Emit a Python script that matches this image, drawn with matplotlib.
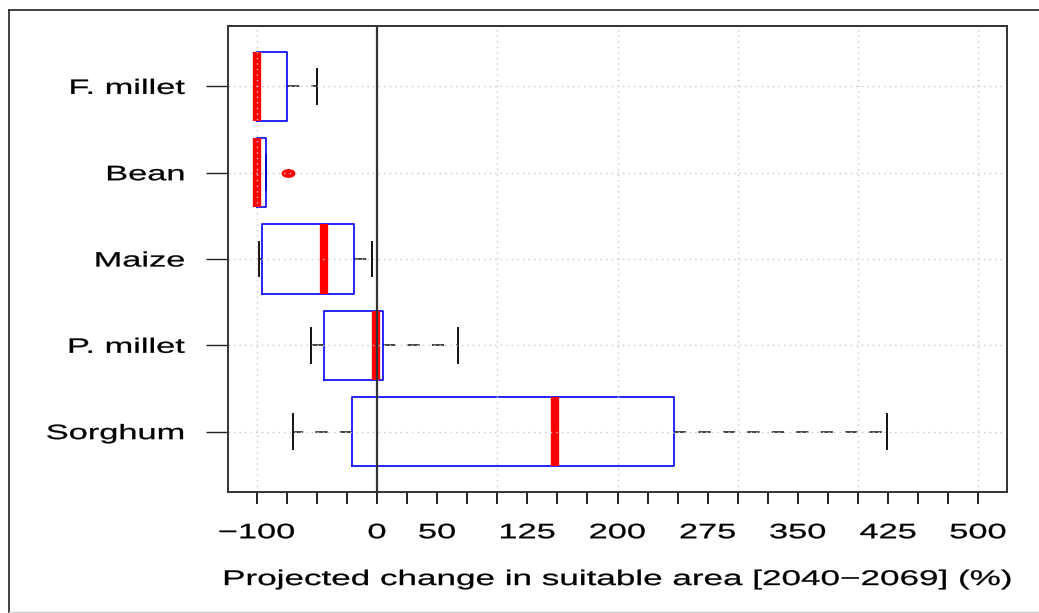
import numpy as np
import matplotlib.pyplot as plt
from matplotlib.path import Path
from matplotlib.transforms import Affine2D
from matplotlib.lines import Line2D
from matplotlib.patheffects import AbstractPathEffect

# Datos (cambio proyectado en % de area apta, 2040-2069)
crops = ["Sorghum", "P. millet", "Maize", "Bean", "F. millet"]
whis_lo = [-70, -55, -98, -100, -100]
q1 = [-21, -44, -95.5, -100, -100]
median = [148, -1, -44, -99.5, -100]
q3 = [247, 5, -19.5, -92, -75]
whis_hi = [424, 67, -4, -92, -50]
outliers = [[], [], [], [-74], []]

tick_vals = np.arange(-100, 501, 25)
tick_labels = {-100: "\u2212100", 0: "0", 50: "50", 125: "125", 200: "200",
               275: "275", 350: "350", 425: "425", 500: "500"}
GRID_X = [-100, 0, 100, 200, 300, 400, 500]

STRETCH = 1.65  # la imagen original esta estirada en horizontal


class Estirar(AbstractPathEffect):
    """Estira el texto en horizontal alrededor de su punto de anclaje."""
    def __init__(self, sx, ha, trazo=0.2):
        super().__init__()
        self.sx = sx
        self.trazo = trazo
        self.frac = {'left': 0.0, 'center': 0.5, 'right': 1.0}[ha]

    def draw_path(self, renderer, gc, tpath, affine, rgbFace=None):
        ext = tpath.get_extents()
        c = ext.x0 + self.frac * ext.width
        t = Affine2D().translate(-c, 0).scale(self.sx, 1).translate(c, 0)
        gc0 = renderer.new_gc()
        gc0.copy_properties(gc)
        gc0.set_linewidth(self.trazo)
        renderer.draw_path(gc0, tpath, t + affine, rgbFace)
        gc0.restore()


plt.rcParams['font.family'] = ['Liberation Sans', 'DejaVu Sans']

fig = plt.figure(figsize=(10.39, 6.13), dpi=100)
ax = fig.add_axes([228 / 1039, 1 - 492 / 613, (1007 - 228) / 1039, (492 - 26) / 613])

stats = []
for i in range(len(crops)):
    stats.append(dict(med=median[i], q1=q1[i], q3=q3[i],
                      whislo=whis_lo[i], whishi=whis_hi[i],
                      fliers=outliers[i], label=crops[i]))

ellipse = Path.unit_circle().transformed(Affine2D().scale(1.68, 1.0))

ax.bxp(stats, positions=np.arange(1, len(crops) + 1), widths=0.8, capwidths=0.4,
       orientation='horizontal', patch_artist=False,
       boxprops=dict(color='#0000FF', linewidth=1.2, zorder=2.2),
       medianprops=dict(color='#FF0000', linewidth=6, solid_capstyle='butt', zorder=2.3),
       whiskerprops=dict(color='#111111', linewidth=1.1, linestyle=(0, (8, 8))),
       capprops=dict(color='#111111', linewidth=1.4),
       flierprops=dict(marker=ellipse, markerfacecolor='#FF0000', markeredgecolor='#FF0000',
                       markersize=9, linestyle='none'))

# grilla punteada encima de las cajas
for gx in GRID_X:
    ax.axvline(gx, color='#C8C8C8', linestyle=(0, (1, 3)), linewidth=1, zorder=2.5)
for gy in range(1, len(crops) + 1):
    ax.axhline(gy, color='#C8C8C8', linestyle=(0, (1, 3)), linewidth=1, zorder=2.5)
ax.axvline(0, color='#333333', linewidth=1.6, zorder=3)

ax.set_xlim(-124, 524)
ax.set_ylim(0.3, 5.7)
ax.set_xticks(tick_vals)
ax.set_xticklabels([tick_labels.get(int(v), '') for v in tick_vals])
ax.set_yticks(np.arange(1, len(crops) + 1))
ax.set_yticklabels(crops)
ax.tick_params(axis='x', length=8.5, width=1.4, pad=14, labelsize=15, color='#222222')
ax.tick_params(axis='y', length=16, width=1.0, pad=15, labelsize=15, color='#222222')
ax.set_xlabel("Projected change in suitable area [2040\u22122069] (%)", fontsize=15.3, labelpad=20)

for lbl in ax.get_xticklabels():
    lbl.set_path_effects([Estirar(STRETCH, 'center')])
for lbl in ax.get_yticklabels():
    lbl.set_path_effects([Estirar(STRETCH, 'right')])
ax.xaxis.label.set_path_effects([Estirar(STRETCH, 'center')])

for sp in ax.spines.values():
    sp.set_color('#333333')
    sp.set_linewidth(1.4)

# marco de la figura
fig.add_artist(Line2D([9 / 1039, 1.0], [1 - 10 / 613, 1 - 10 / 613], color='#222222', linewidth=1.2))
fig.add_artist(Line2D([9 / 1039, 9 / 1039], [1 - 10 / 613, 0.0], color='#222222', linewidth=1.2))
fig.add_artist(Line2D([9 / 1039, 1.0], [1 / 613, 1 / 613], color='#CCCCCC', linewidth=1.0))

fig.savefig("out.png", dpi=100)
